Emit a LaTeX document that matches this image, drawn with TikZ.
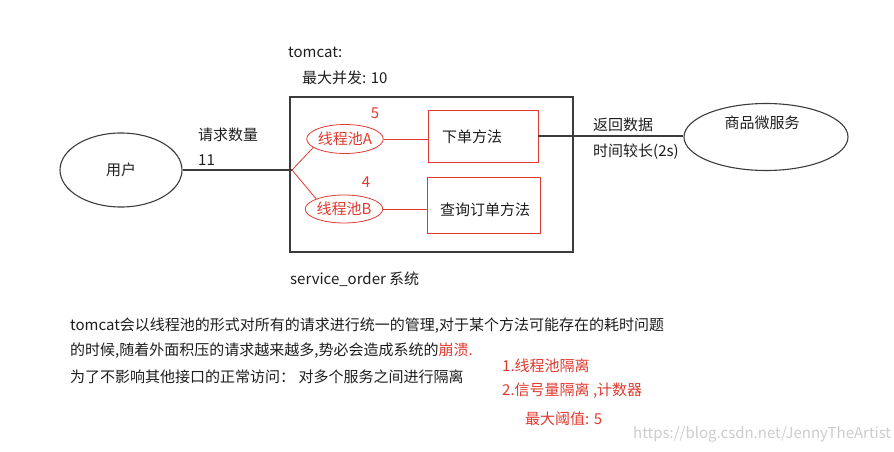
\documentclass[tikz,border=0pt]{standalone}
\usepackage{fontspec}
\setmainfont{Noto Sans CJK SC}
\usetikzlibrary{shapes.geometric}
\definecolor{myred}{RGB}{226,58,48}
\definecolor{ink}{RGB}{30,30,30}
\definecolor{wline}{RGB}{60,60,60}
\definecolor{wmark}{RGB}{205,205,205}
\begin{document}
\begin{tikzpicture}[x=1pt,y=-1pt,
  every node/.style={font=\fontsize{15}{18}\selectfont, text=ink, inner sep=0pt, text height=13.2pt, text depth=1.8pt},
  txt/.style={anchor=west},
  rtxt/.style={anchor=west, text=myred},
  bell/.style={draw=wline, line width=1.1pt, ellipse},
  rell/.style={draw=myred, line width=0.8pt, ellipse, text=myred},
  rbox/.style={draw=myred, line width=0.9pt, rectangle},
  bline/.style={draw=wline, line width=1.2pt},
  rline/.style={draw=myred, line width=0.8pt}]
\useasboundingbox (0,0) rectangle (894,452);
\fill[white] (0,0) rectangle (894,452);

% main system box
\node[draw=wline, line width=1.2pt, minimum width=283pt, minimum height=155pt] (sys) at (431.5,174.5) {};

% user
\node[bell, minimum width=122pt, minimum height=74pt] (user) at (121,170) {用户};
\coordinate (br) at (292,170);

% thread pools
\node[rell, minimum width=74pt, minimum height=29pt] (pA) at (345,139) {线程池A};
\node[rell, minimum width=72pt, minimum height=28pt] (pB) at (344,209) {线程池B};

% method boxes
\node[rbox, minimum width=110pt, minimum height=52pt] (m1) at (483,136) {};
\node (m1t) at (472,137) {下单方法};
\node[rbox, minimum width=113pt, minimum height=56pt] (m2) at (483.5,205) {};
\node (m2t) at (485,210) {查询订单方法};

% goods service
\node[bell, minimum width=164pt, minimum height=67pt] (goods) at (766,137) {};
\node (goodst) at (762,123) {商品微服务};

% connectors
\draw[bline] (user.east) -- (br);
\draw[rline] (br) -- (pA.195);
\draw[rline] (br) -- (pB.160);
\draw[rline] (pA.east) -- (pA.east -| m1.west);
\draw[rline] (pB.east) -- (pB.east -| m2.west);
\draw[bline] (m1.east) -- (m1.east -| goods.west);

% labels
\node[txt] (tc) at (288,52) {tomcat:};
\node[txt] (mx) at (302,78) {最大并发: 10};
\node[txt] (rq) at (198,135) {请求数量};
\node[txt] (rqn) at (198,160) {11};
\node[text=myred] (n5) at (375,113) {5};
\node[text=myred] (n4) at (366,182) {4};
\node[txt] (ret) at (593,125) {返回数据};
\node[txt] (tm) at (593,151) {时间较长(2s)};
\node[txt] (so) at (290,279) {service\_order 系统};

% paragraph
\node[txt] (p1) at (70,325) {tomcat会以线程池的形式对所有的请求进行统一的管理,对于某个方法可能存在的耗时问题};
\node[txt] (p2) at (70,350) {的时候,随着外面积压的请求越来越多,势必会造成系统的\textcolor{myred}{崩溃.}};
\node[txt] (p3) at (70,377) {为了不影响其他接口的正常访问： 对多个服务之间进行隔离};

% red list
\node[rtxt] (l1) at (502,366) {1.线程池隔离};
\node[rtxt] (l2) at (502,390) {2.信号量隔离 ,计数器};
\node[rtxt] (l3) at (525,419) {最大阈值: 5};

% watermark
\node[txt, text=wmark] (wm) at (633,433) {https://blog.csdn.net/JennyTheArtist};
\end{tikzpicture}
\end{document}
